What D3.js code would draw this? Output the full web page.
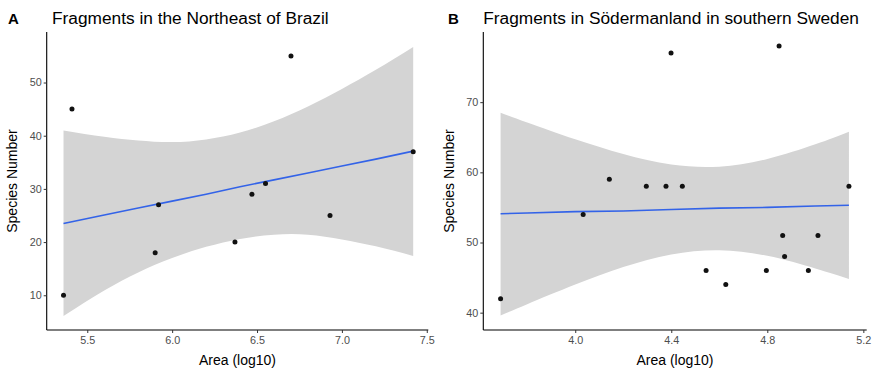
<!DOCTYPE html>
<html>
<head>
<meta charset="utf-8">
<script src="https://cdn.jsdelivr.net/npm/d3@7"></script>
<style>
  html, body { margin: 0; padding: 0; background: #fff; }
  svg { display: block; font-family: "Liberation Sans", Arial, sans-serif; }
</style>
</head>
<body>
<svg id="chart" width="873" height="373"></svg>
<script>
// ---------- Panel A data: Fragments in the Northeast of Brazil ----------
const areaA = [5.36, 5.41, 5.90, 5.92, 6.37, 6.47, 6.55, 6.70, 6.93, 7.42];
const speciesA = [10, 45, 18, 27, 20, 29, 31, 55, 25, 37];
const bandXA = [5.36, 5.6, 5.8, 6.0, 6.2, 6.4, 6.6, 6.8, 7.0, 7.2, 7.42];
const fitA = [23.5, 25.1, 26.4, 27.7, 29.0, 30.4, 31.7, 33.0, 34.3, 35.6, 37.1];
const upperA = [41.0, 39.8, 39.1, 38.8, 39.3, 40.6, 42.7, 45.5, 48.8, 52.4, 56.7];
const lowerA = [6.1, 10.9, 14.3, 17.0, 19.1, 20.6, 21.4, 21.4, 20.5, 19.2, 17.4];
const xTicksA = [5.5, 6.0, 6.5, 7.0, 7.5];
const yTicksA = [10, 20, 30, 40, 50];

// ---------- Panel B data: Fragments in Södermanland in southern Sweden ----------
const areaB = [3.689, 4.033, 4.142, 4.296, 4.378, 4.399, 4.446, 4.545, 4.627, 4.796, 4.849, 4.864, 4.872, 4.971, 5.011, 5.140];
const speciesB = [42, 54, 59, 58, 58, 77, 58, 46, 44, 46, 78, 51, 48, 46, 51, 58];
const bandXB = [3.689, 3.8, 4.0, 4.2, 4.4, 4.6, 4.8, 5.0, 5.14];
const fitB = [54.1, 54.2, 54.4, 54.5, 54.7, 54.9, 55.0, 55.2, 55.3];
const upperB = [68.5, 67.1, 64.7, 62.6, 61.1, 60.8, 61.9, 64.0, 65.8];
const lowerB = [39.6, 41.2, 44.0, 46.5, 48.3, 48.9, 48.1, 46.3, 44.8];
const xTicksB = [4.0, 4.4, 4.8, 5.2];
const yTicksB = [40, 50, 60, 70];

const svg = d3.select("#chart");

function drawPanel(o) {
  const g = svg.append("g");
  const x = d3.scaleLinear().domain(o.xDomain).range([o.left, o.right]);
  const y = d3.scaleLinear().domain(o.yDomain).range([o.bottom, o.top]);

  const band = o.bandX.map((v, i) => ({ x: v, lo: o.lower[i], hi: o.upper[i], f: o.fit[i] }));

  // confidence ribbon
  g.append("path")
    .datum(band)
    .attr("fill", "#d4d4d4")
    .attr("d", d3.area().curve(d3.curveNatural)
      .x(d => x(d.x)).y0(d => y(d.lo)).y1(d => y(d.hi)));

  // fit line
  g.append("path")
    .datum(band)
    .attr("fill", "none")
    .attr("stroke", "#3363E8")
    .attr("stroke-width", 1.6)
    .attr("d", d3.line().x(d => x(d.x)).y(d => y(d.f)));

  // points
  g.selectAll("circle.pt")
    .data(o.xs.map((v, i) => [v, o.ys[i]]))
    .join("circle")
    .attr("class", "pt")
    .attr("cx", d => x(d[0]))
    .attr("cy", d => y(d[1]))
    .attr("r", 2.5)
    .attr("fill", "#111");

  // axes
  const xAxis = d3.axisBottom(x).tickValues(o.xTicks).tickSize(3).tickPadding(3)
    .tickFormat(d3.format(".1f")).tickSizeOuter(0);
  const yAxis = d3.axisLeft(y).tickValues(o.yTicks).tickSize(3).tickPadding(2)
    .tickFormat(d3.format("d")).tickSizeOuter(0);

  const gx = g.append("g").attr("transform", `translate(0,${o.bottom})`).call(xAxis);
  const gy = g.append("g").attr("transform", `translate(${o.left},0)`).call(yAxis);
  [gx, gy].forEach(a => {
    a.select(".domain").attr("stroke", "#000").attr("stroke-width", 1.1);
    a.selectAll(".tick line").attr("stroke", "#333");
    a.selectAll(".tick text").attr("fill", "#4d4d4d")
      .style("font-size", "10.8px").style("font-family", "Liberation Sans, Arial, sans-serif");
  });
  gx.select(".domain").attr("d", `M${o.left},0H${o.right}`);
  gy.select(".domain").attr("d", `M0,${o.bottom}V${o.top}`);

  // axis titles
  g.append("text")
    .attr("x", (o.left + o.right) / 2)
    .attr("y", 365)
    .attr("text-anchor", "middle")
    .style("font-size", "14px")
    .attr("fill", "#000")
    .text("Area (log10)");

  g.append("text")
    .attr("transform", `translate(${o.left - 29.5},${(o.top + o.bottom) / 2}) rotate(-90)`)
    .attr("text-anchor", "middle")
    .style("font-size", "14px")
    .attr("fill", "#000")
    .text("Species Number");

  // panel tag & title
  g.append("text")
    .attr("x", o.tagX).attr("y", 23.5)
    .style("font-size", "15px").style("font-weight", "bold")
    .text(o.tag);
  g.append("text")
    .attr("x", o.titleX).attr("y", 23.5)
    .style("font-size", "17.3px")
    .text(o.title);
}

drawPanel({
  xs: areaA, ys: speciesA, bandX: bandXA, fit: fitA, upper: upperA, lower: lowerA,
  xTicks: xTicksA, yTicks: yTicksA,
  xDomain: [5.261, 7.509], yDomain: [3.47, 59.5],
  left: 46.7, right: 428.3, top: 32, bottom: 330,
  tag: "A", tagX: 8, title: "Fragments in the Northeast of Brazil", titleX: 52
});

drawPanel({
  xs: areaB, ys: speciesB, bandX: bandXB, fit: fitB, upper: upperB, lower: lowerB,
  xTicks: xTicksB, yTicks: yTicksB,
  xDomain: [3.617, 5.214], yDomain: [37.53, 80.0],
  left: 483.3, right: 866.7, top: 32, bottom: 330,
  tag: "B", tagX: 448, title: "Fragments in Södermanland in southern Sweden", titleX: 483.3
});
</script>
</body>
</html>
